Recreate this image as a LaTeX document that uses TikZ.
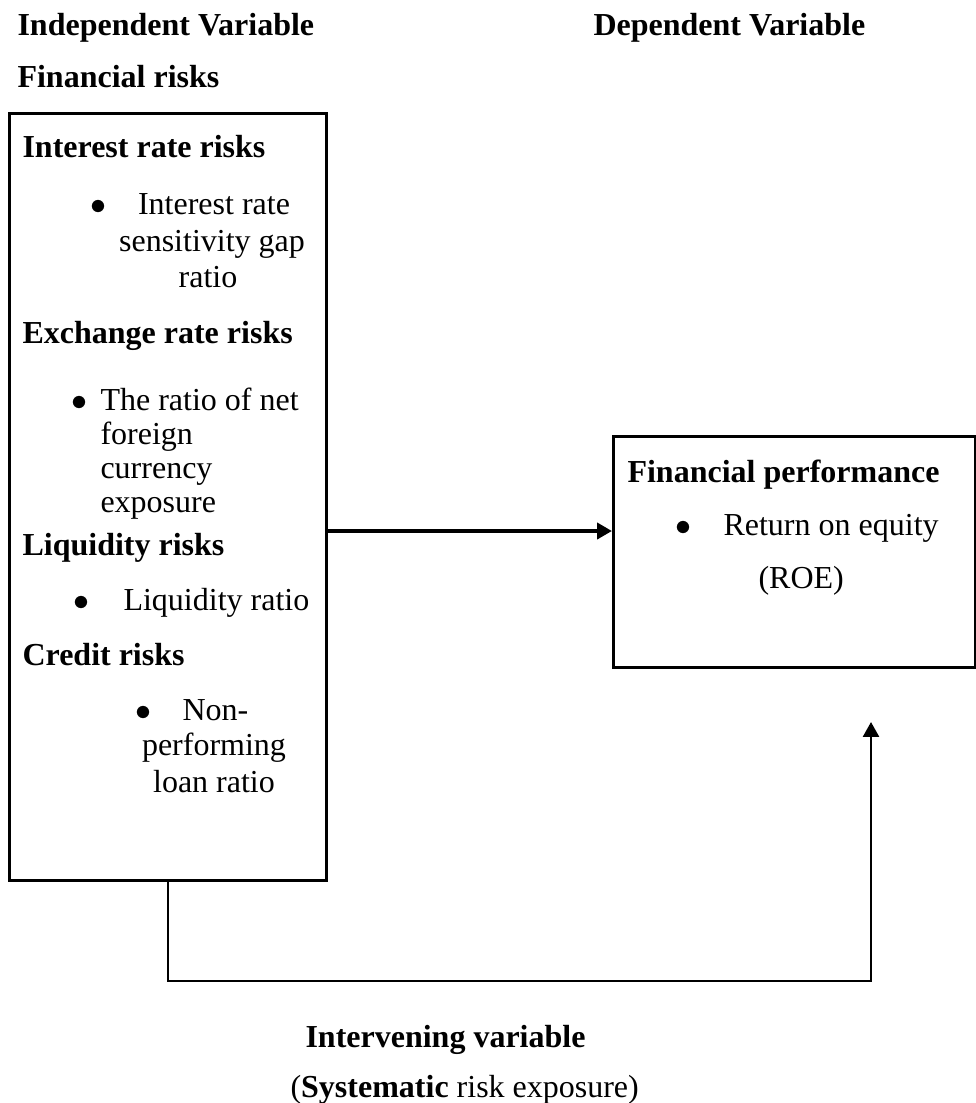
\documentclass[tikz,border=0pt]{standalone}
\usepackage{fontspec}
\setmainfont{Liberation Serif}
\usepackage{tikz}
\usetikzlibrary{arrows.meta, positioning, calc}

\begin{document}
\begin{tikzpicture}[x=0.375pt, y=-0.375pt,
    every node/.style={inner sep=0pt, font=\fontsize{12}{13.8}\selectfont},
    head/.style={anchor=base west, font=\fontsize{12}{13.8}\selectfont\bfseries},
    txt/.style={anchor=base west},
    mid/.style={anchor=base},
    box/.style={draw, line width=1pt, anchor=north west},
    link/.style={line width=0.9pt, -{Triangle[length=5.6pt, width=6pt]}}]

    \useasboundingbox (0,0) rectangle (976,1103);

    % headings
    \node[head] (indeplbl) at (17,35) {Independent Variable};
    \node[head] (deplbl) at (593,35) {Dependent Variable};
    \node[head] (finrisk) at (17,87) {Financial risks};

    % the two boxes
    \node[box, minimum width=118.9pt, minimum height=287.6pt] (risks) at (8,112) {};
    \node[box, minimum width=135.75pt, minimum height=86.6pt] (perf) at (612,435) {};

    % left box
    \node[head] (irr) at (22,157) {Interest rate risks};
    \node[txt] (irrb) at (90,214) {$\bullet$};
    \node[mid] (irr1) at (214,214) {Interest rate};
    \node[mid] (irr2) at (212,251) {sensitivity gap};
    \node[mid] (irr3) at (208,287) {ratio};

    \node[head] (err) at (22,343) {Exchange rate risks};
    \node[txt] (errb) at (71,410) {$\bullet$};
    \node[txt] (err1) at (100,410) {The ratio of net};
    \node[txt] (err2) at (100,444) {foreign};
    \node[txt] (err3) at (100,478) {currency};
    \node[txt] (err4) at (100,512) {exposure};

    \node[head] (liq) at (22,555) {Liquidity risks};
    \node[txt] (liqb) at (73,610) {$\bullet$};
    \node[txt] (liq1) at (123,610) {Liquidity ratio};

    \node[head] (cred) at (22,665) {Credit risks};
    \node[txt] (credb) at (135,720) {$\bullet$};
    \node[txt] (cred1) at (182,720) {Non-};
    \node[mid] (cred2) at (214,755) {performing};
    \node[mid] (cred3) at (214,792) {loan ratio};

    % right box
    \node[head] (fp) at (627,482) {Financial performance};
    \node[txt] (fpb) at (675,535) {$\bullet$};
    \node[txt] (fp1) at (723,535) {Return on equity};
    \node[txt] (fp2) at (758,588) {(ROE)};

    % intervening variable
    \node[head] (interv) at (305,1047) {Intervening variable};
    \node[txt] (sysrisk) at (290,1097) {(\textbf{Systematic} risk exposure)};

    % connectors
    \coordinate (ylevel) at (0,531);
    \coordinate (low) at (0,981);
    \coordinate (roeend) at (871,722);

    \draw[link, line width=1.5pt] (risks.east |- ylevel) -- (perf.west |- ylevel);
    \draw[link] (risks.south) |- (roeend |- low) -- (roeend);
\end{tikzpicture}
\end{document}
